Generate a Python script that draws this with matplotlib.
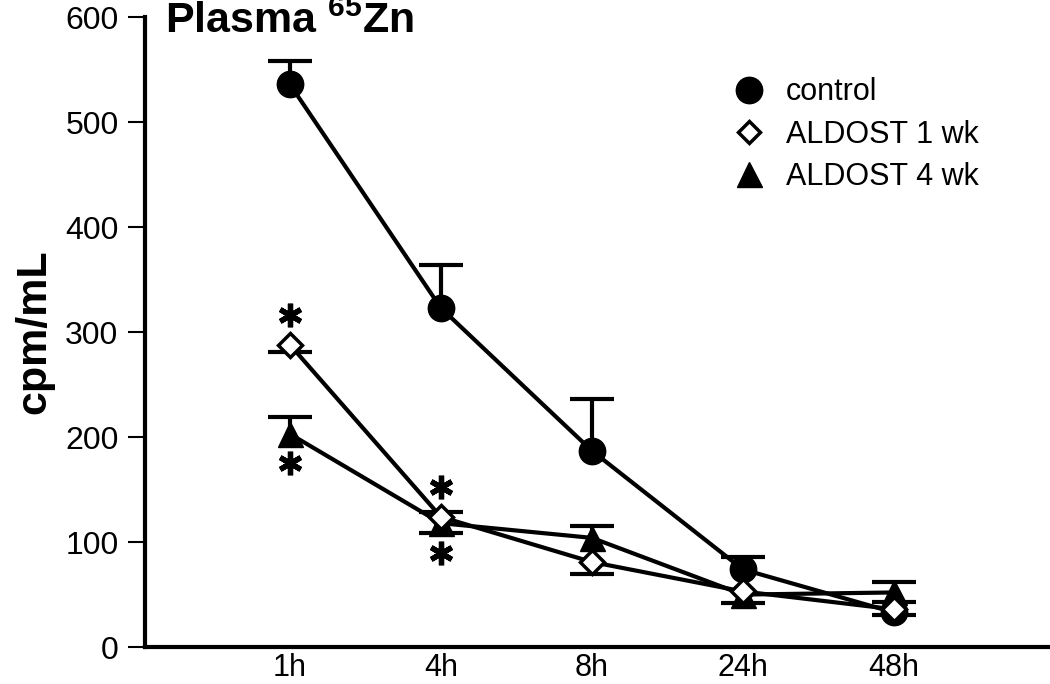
import matplotlib
matplotlib.use("Agg")
import matplotlib.pyplot as plt
from matplotlib.lines import Line2D

plt.rcParams['font.family'] = ['Liberation Sans', 'DejaVu Sans']
plt.rcParams['mathtext.fontset'] = 'custom'
plt.rcParams['mathtext.rm'] = 'Liberation Sans'
plt.rcParams['mathtext.bf'] = 'Liberation Sans:bold'

times = ['1h', '4h', '8h', '24h', '48h']
control = [536, 323, 187, 74, 33]
control_up = [22, 41, 49, 12, 0]
control_dn = [0, 0, 0, 0, 0]
wk1 = [288, 124, 81, 53, 36]
wk1_up = [0, 5, 0, 0, 7]
wk1_dn = [7, 0, 11, 11, 5]
wk4 = [203, 118, 104, 50, 52]
wk4_up = [16, 0, 11, 0, 10]
wk4_dn = [0, 9, 0, 0, 0]

# significance marks: (time index, y value)
stars = [(0, 316), (0, 175), (1, 152), (1, 90)]

x = list(range(1, len(times) + 1))

fig = plt.figure(figsize=(10.5, 6.84), dpi=100)
ax = fig.add_axes([0.138, 0.054, 0.86, 0.921])


def one_sided_err(vals, up, dn, z):
    # only draw the bars that exist, each with a single cap at its tip
    for xi, v, u, d in zip(x, vals, up, dn):
        for tip in (v + u if u else None, v - d if d else None):
            if tip is None:
                continue
            ax.vlines(xi, v, tip, color='black', lw=3, zorder=z)
            ax.plot(xi, tip, marker='_', ms=32, mew=3, color='black', zorder=z)


one_sided_err(control, control_up, control_dn, 2)
one_sided_err(wk1, wk1_up, wk1_dn, 2)
one_sided_err(wk4, wk4_up, wk4_dn, 2)

ax.plot(x, control, '-o', color='black', lw=3, ms=19, zorder=3)
ax.plot(x, wk4, '-^', color='black', lw=3, ms=18, zorder=4)
ax.plot(x, wk1, '-D', color='black', lw=3, ms=12, mfc='white', mew=2.5,
        zorder=5)

for i, yv in stars:
    ax.plot(x[i], yv, marker=(6, 2, 0), ms=17, mew=3.8, color='black')

ax.set_xlim(0.04, 6.02)
ax.set_ylim(0, 600)
ax.set_yticks(range(0, 601, 100))
ax.set_xticks(x)
ax.set_xticklabels(times)
ax.tick_params(axis='y', length=12, width=1.5, labelsize=23, pad=7)
ax.tick_params(axis='x', length=0, labelsize=22, pad=4)
for s in ['top', 'right']:
    ax.spines[s].set_visible(False)
for s in ['left', 'bottom']:
    ax.spines[s].set_linewidth(3)

ax.set_ylabel('cpm/mL', fontsize=31, fontweight='bold', labelpad=8)
fig.text(0.157, 0.997, r'Plasma $^{\mathbf{65}}$Zn', fontsize=31,
         fontweight='bold', va='top', ha='left')

handles = [
    Line2D([], [], ls='none', marker='o', ms=19, color='black'),
    Line2D([], [], ls='none', marker='D', ms=11, mfc='white', mec='black',
           mew=2.5),
    Line2D([], [], ls='none', marker='^', ms=18, color='black'),
]
ax.legend(handles, ['control', 'ALDOST 1 wk', 'ALDOST 4 wk'],
          loc='upper left', bbox_to_anchor=(0.622, 0.948), frameon=False,
          fontsize=22, handlelength=1.0, handletextpad=0.7,
          labelspacing=0.4)

fig.savefig('out.png', dpi=100)
